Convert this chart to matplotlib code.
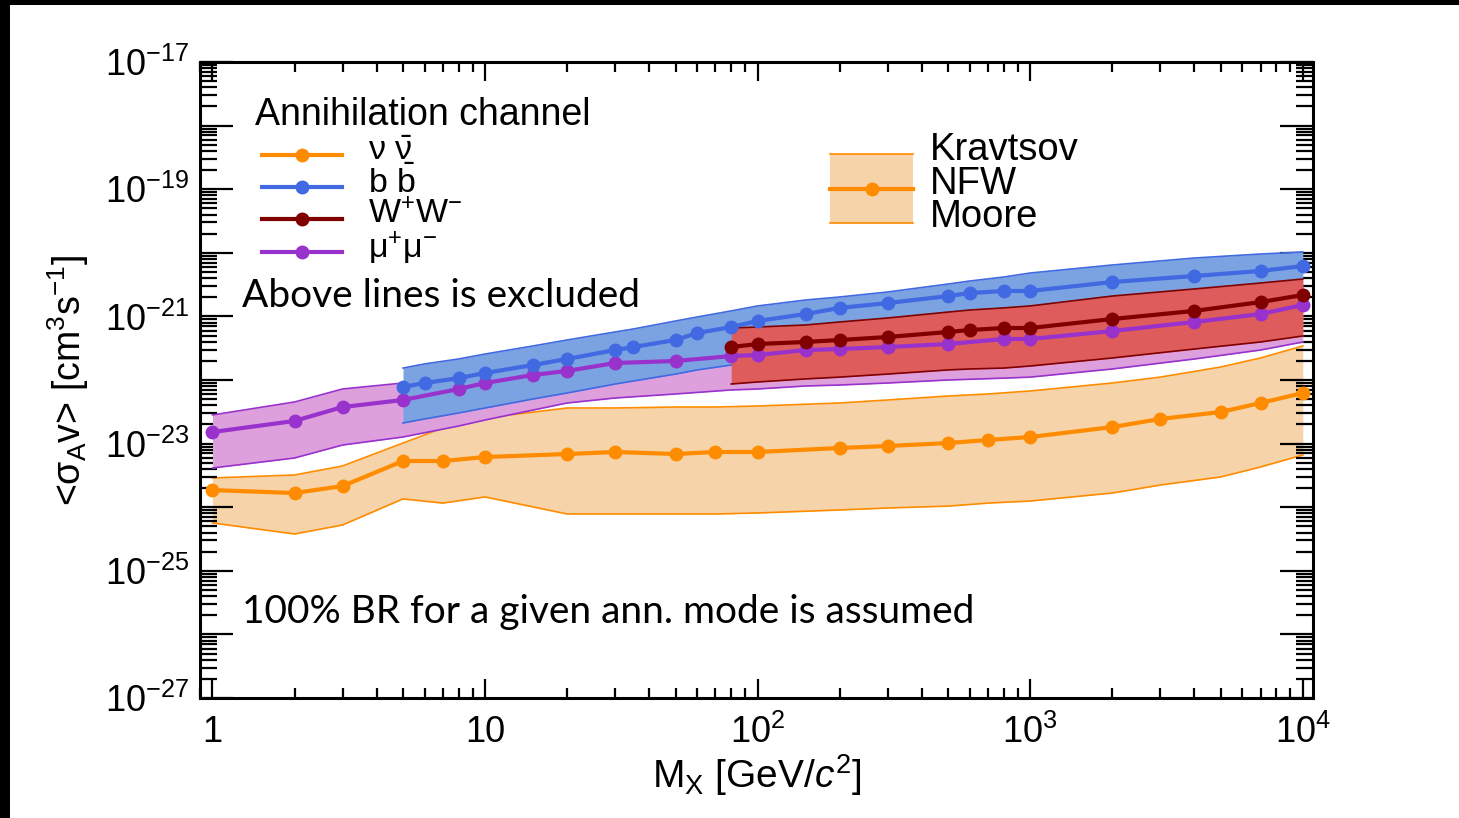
import numpy as np
import matplotlib
matplotlib.use("Agg")
import matplotlib.pyplot as plt
from matplotlib.patches import Rectangle
from matplotlib.lines import Line2D
from matplotlib.ticker import FixedLocator, LogLocator, NullFormatter, FuncFormatter

plt.rcParams['font.family'] = ['Liberation Sans', 'DejaVu Sans']
plt.rcParams['mathtext.fontset'] = 'custom'
plt.rcParams['mathtext.rm'] = 'Liberation Sans'
plt.rcParams['mathtext.it'] = 'Liberation Sans:italic'
plt.rcParams['mathtext.bf'] = 'Liberation Sans:bold'
plt.rcParams['mathtext.sf'] = 'Liberation Sans'

# --- upper limits on <sigma v> per annihilation channel (NFW central, Kravtsov / Moore band) ---
mass_nu = [1, 2, 3, 5, 7, 10, 20, 30, 50, 70, 100, 200, 300, 500, 700,
           1000, 2000, 3000, 5000, 7000, 10000]
nu_nfw = [1.86e-24, 1.67e-24, 2.15e-24, 5.32e-24, 5.32e-24, 6.15e-24, 6.86e-24,
          7.38e-24, 6.86e-24, 7.38e-24, 7.38e-24, 8.53e-24, 9.17e-24, 1.02e-23,
          1.14e-23, 1.27e-23, 1.82e-23, 2.44e-23, 3.14e-23, 4.35e-23, 6.25e-23]
nu_kravtsov = [2.88e-24, 3.21e-24, 4.45e-24, 1.02e-23, 1.76e-23, 2.53e-23, 3.63e-23,
               3.63e-23, 3.76e-23, 3.76e-23, 3.90e-23, 4.35e-23, 4.85e-23, 5.60e-23,
               6.03e-23, 6.72e-23, 8.97e-23, 1.11e-22, 1.60e-22, 2.22e-22, 3.43e-22]
nu_moore = [5.65e-25, 3.79e-25, 5.25e-25, 1.35e-24, 1.16e-24, 1.45e-24, 7.82e-25,
            7.82e-25, 7.82e-25, 7.82e-25, 8.11e-25, 9.04e-25, 9.71e-25, 1.04e-24,
            1.16e-24, 1.25e-24, 1.67e-24, 2.23e-24, 2.99e-24, 4.29e-24, 6.62e-24]

mass_mu = [1, 2, 3, 5, 8, 10, 15, 20, 30, 50, 80, 100, 150, 200, 300, 500, 800,
           1000, 2000, 4000, 7000, 10000]
mu_nfw = [1.52e-23, 2.27e-23, 3.76e-23, 4.85e-23, 7.22e-23, 8.97e-23, 1.20e-22,
          1.39e-22, 1.85e-22, 1.99e-22, 2.38e-22, 2.47e-22, 2.96e-22, 3.07e-22,
          3.30e-22, 3.68e-22, 4.41e-22, 4.41e-22, 5.89e-22, 8.17e-22, 1.09e-21, 1.51e-21]
mu_kravtsov = [2.82e-23, 4.51e-23, 7.22e-23, 8.97e-23, 1.34e-22, 1.66e-22, 2.22e-22,
               2.56e-22, 3.43e-22, 3.68e-22, 4.41e-22, 4.57e-22, 5.48e-22, 5.69e-22,
               6.11e-22, 6.81e-22, 8.17e-22, 8.17e-22, 1.09e-21, 1.51e-21, 2.02e-21, 2.80e-21]
mu_moore = [4.13e-24, 5.94e-24, 9.50e-24, 1.27e-23, 1.89e-23, 2.35e-23, 3.37e-23,
            4.35e-23, 5.21e-23, 6.03e-23, 6.97e-23, 7.22e-23, 8.05e-23, 8.34e-23,
            8.97e-23, 1.00e-22, 1.07e-22, 1.11e-22, 1.49e-22, 2.14e-22, 2.96e-22, 3.96e-22]

mass_bb = [5, 6, 8, 10, 15, 20, 30, 35, 50, 60, 80, 100, 150, 200, 300, 500, 600,
           800, 1000, 2000, 4000, 7000, 10000]
bb_nfw = [7.76e-23, 8.97e-23, 1.07e-22, 1.29e-22, 1.72e-22, 2.14e-22, 2.96e-22,
          3.30e-22, 4.26e-22, 5.48e-22, 6.81e-22, 8.47e-22, 1.09e-21, 1.36e-21,
          1.62e-21, 2.09e-21, 2.33e-21, 2.51e-21, 2.51e-21, 3.47e-21, 4.32e-21,
          5.18e-21, 6.20e-21]
bb_kravtsov = [1.54e-22, 1.79e-22, 2.14e-22, 2.56e-22, 3.43e-22, 4.26e-22, 5.69e-22,
               6.34e-22, 8.47e-22, 9.79e-22, 1.22e-21, 1.46e-21, 1.81e-21, 2.02e-21,
               2.42e-21, 3.23e-21, 3.60e-21, 4.16e-21, 4.81e-21, 6.43e-21, 8.28e-21,
               9.57e-21, 1.03e-20]
bb_moore = [2.11e-23, 2.44e-23, 3.03e-23, 3.63e-23, 5.03e-23, 6.25e-23, 8.65e-23,
            9.64e-23, 1.24e-22, 1.44e-22, 1.72e-22, 1.99e-22, 2.47e-22, 2.86e-22,
            3.43e-22, 4.26e-22, 4.74e-22, 5.29e-22, 5.89e-22, 7.87e-22, 1.05e-21,
            1.31e-21, 1.51e-21]

mass_ww = [80, 100, 150, 200, 300, 500, 600, 800, 1000, 2000, 4000, 7000, 10000]
ww_nfw = [3.30e-22, 3.68e-22, 3.96e-22, 4.26e-22, 4.74e-22, 5.69e-22, 6.11e-22,
          6.57e-22, 6.57e-22, 9.10e-22, 1.22e-21, 1.68e-21, 2.17e-21]
ww_kravtsov = [6.57e-22, 6.81e-22, 7.33e-22, 8.17e-22, 9.44e-22, 1.17e-21, 1.26e-21,
               1.36e-21, 1.46e-21, 2.09e-21, 2.70e-21, 3.35e-21, 3.87e-21]
ww_moore = [8.65e-23, 9.31e-23, 1.04e-22, 1.11e-22, 1.24e-22, 1.44e-22, 1.49e-22,
            1.54e-22, 1.66e-22, 2.22e-22, 3.07e-22, 3.96e-22, 4.92e-22]

channel_labels = [r'$\mathrm{\nu\ \bar{\nu}}$', r'$\mathrm{b\ \bar{b}}$',
                  r'$\mathrm{W^{+}W^{-}}$', r'$\mathrm{\mu^{+}\mu^{-}}$']
halo_labels = ['Kravtsov', 'NFW', 'Moore']

ORANGE, ORANGE_FILL = '#FF8C00', '#F6D3A8'
BLUE, BLUE_FILL = '#4169E1', '#7BA3E1'
RED, RED_FILL = '#800000', '#DE5C5C'
PURPLE, PURPLE_FILL = '#9932CC', '#DDA0DD'

W, H = 1459, 818
fig = plt.figure(figsize=(W / 100, H / 100), dpi=100)
ax = fig.add_axes([200 / W, 1 - 698 / H, 1113 / W, 636 / H])

def fx(px):
    return px / W

def fy(py):
    return 1 - py / H

# bands first, in drawing order, then the NFW lines on top
bands = [(mass_nu, nu_kravtsov, nu_moore, ORANGE, ORANGE_FILL),
         (mass_mu, mu_kravtsov, mu_moore, PURPLE, PURPLE_FILL),
         (mass_bb, bb_kravtsov, bb_moore, BLUE, BLUE_FILL),
         (mass_ww, ww_kravtsov, ww_moore, RED, RED_FILL)]
for i, (m, hi, lo, lc, fc) in enumerate(bands):
    ax.fill_between(m, lo, hi, color=fc, lw=0, zorder=1 + i)
    ax.plot(m, hi, color=lc, lw=1.2, zorder=1 + i)
    ax.plot(m, lo, color=lc, lw=1.2, zorder=1 + i)

lines = [(mass_nu, nu_nfw, ORANGE), (mass_mu, mu_nfw, PURPLE),
         (mass_bb, bb_nfw, BLUE), (mass_ww, ww_nfw, RED)]
for m, v, c in lines:
    ax.plot(m, v, color=c, lw=3, marker='o', ms=9, zorder=10)

ax.set_xscale('log')
ax.set_yscale('log')
ax.set_xlim(0.9, 1.09e4)
ax.set_ylim(1e-27, 1e-17)

# axis ticks
ax.xaxis.set_major_locator(FixedLocator([1, 10, 100, 1000, 10000]))
ax.xaxis.set_minor_locator(LogLocator(base=10, subs=np.arange(2, 10), numticks=20))
ax.xaxis.set_minor_formatter(NullFormatter())
xlab = {1: '1', 10: '10', 100: r'$10^{2}$', 1000: r'$10^{3}$', 10000: r'$10^{4}$'}
ax.xaxis.set_major_formatter(FuncFormatter(lambda v, p: xlab.get(int(round(v)), '')))

ax.yaxis.set_major_locator(FixedLocator([10.0 ** e for e in range(-27, -16)]))
ax.yaxis.set_minor_locator(LogLocator(base=10, subs=np.arange(2, 10), numticks=30))
ax.yaxis.set_minor_formatter(NullFormatter())

def ylabel_fmt(v, p):
    e = int(round(np.log10(v)))
    return r'$10^{%d}$' % e if e % 2 else ''

ax.yaxis.set_major_formatter(FuncFormatter(ylabel_fmt))

ax.tick_params(which='both', direction='in', top=True, right=True, width=1.6,
               labelsize=26, colors='black')
ax.tick_params(axis='y', which='major', length=24, pad=8)
ax.tick_params(axis='y', which='minor', length=12)
ax.tick_params(axis='x', which='major', length=14, pad=12)
ax.tick_params(axis='x', which='minor', length=7)
for s in ax.spines.values():
    s.set_linewidth(2.2)

# axis titles
fig.text(fx(757), fy(775), r'M$_{\mathrm{X}}$ [GeV/$c^{2}$]', fontsize=28,
         ha='center', va='center')
fig.text(fx(68), fy(380), r'<$\mathrm{\sigma_{A}}$v> [cm$^{3}$s$^{-1}$]', fontsize=27,
         ha='center', va='center', rotation=90)

# channel legend
fig.text(fx(255), fy(115), 'Annihilation channel', fontsize=27, ha='left', va='center')
for lab, c, yy in zip(channel_labels, [ORANGE, BLUE, RED, PURPLE], [155, 187, 219, 252]):
    fig.add_artist(Line2D([fx(262), fx(342)], [fy(yy), fy(yy)], color=c, lw=3))
    fig.add_artist(Line2D([fx(302)], [fy(yy)], color=c, marker='o', ms=9))
    fig.text(fx(368), fy(yy - 4), lab, fontsize=24.5, ha='left', va='center')

# halo model legend
fig.add_artist(Rectangle((fx(830), fy(223)), fx(913) - fx(830), fy(154) - fy(223),
                         transform=fig.transFigure, facecolor=ORANGE_FILL, lw=0))
for yy in (154, 223):
    fig.add_artist(Line2D([fx(830), fx(913)], [fy(yy), fy(yy)], color=ORANGE, lw=1.2))
fig.add_artist(Line2D([fx(830), fx(913)], [fy(189), fy(189)], color=ORANGE, lw=3))
fig.add_artist(Line2D([fx(872)], [fy(189)], color=ORANGE, marker='o', ms=9))
for lab, yy in zip(halo_labels, [150, 184, 217]):
    fig.text(fx(930), fy(yy), lab, fontsize=27.5, ha='left', va='center')

# annotations
fig.text(fx(242), fy(296), 'Above lines is excluded', fontsize=28,
         family='Lato', ha='left', va='center')
fig.text(fx(242), fy(612), '100% BR for a given ann. mode is assumed', fontsize=28,
         family='Lato', ha='left', va='center')

# dark frame strips along top and left edges
fig.add_artist(Rectangle((0, fy(5)), 1, 5 / H, transform=fig.transFigure,
                         facecolor='black', lw=0))
fig.add_artist(Rectangle((0, 0), 10 / W, 1, transform=fig.transFigure,
                         facecolor='black', lw=0))

fig.savefig('out.png', dpi=100)
